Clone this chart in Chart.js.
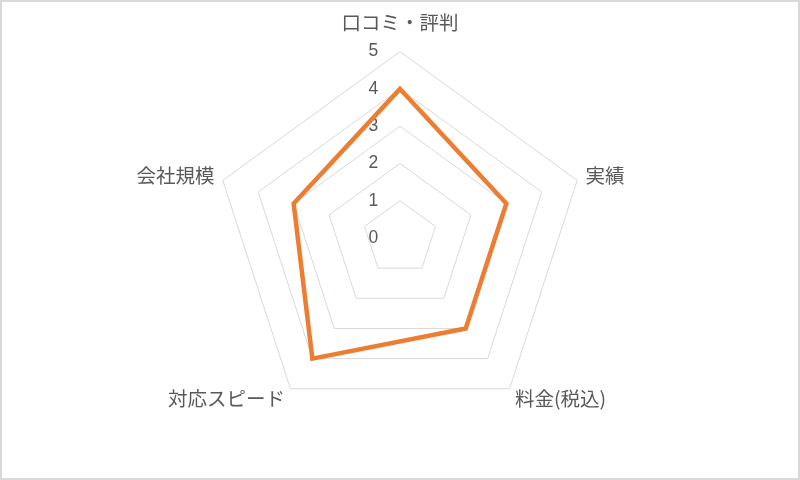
<!DOCTYPE html>
<html>
<head>
<meta charset="utf-8">
<script src="https://cdn.jsdelivr.net/npm/chart.js@4"></script>
<style>
  html, body { margin: 0; padding: 0; background: #fff; }
  .wrap { position: relative; width: 800px; height: 480px; }
  .wrap::after {
    content: ''; position: absolute; left: 0; top: 0; right: 0; bottom: 0;
    border: 2px solid #d9d9d9; pointer-events: none;
  }
</style>
</head>
<body>
<div class="wrap"><canvas id="radar"></canvas></div>
<script>
const categories = ['口コミ・評判', '実績', '料金(税込)', '対応スピード', '会社規模'];
const scores = [4, 3, 3, 4, 3];
const tickValues = [0, 1, 2, 3, 4, 5];

// distance of each category label from the outer ring
const labelPadding = [18.5, 0, 0.5, 0.5, 0];

const config = {
    type: 'radar',
    data: {
        labels: categories,
        datasets: [{
            label: '評価',
            data: scores,
            borderColor: '#ED7D31',
            backgroundColor: 'rgba(0,0,0,0)',
            borderWidth: 4.5,
            borderJoinStyle: 'miter',
            pointRadius: 0,
            pointHoverRadius: 0,
            fill: false
        }]
    },
    options: {
        responsive: true,
        maintainAspectRatio: false,
        animation: false,
        layout: {
            padding: { top: 10.5, bottom: 34.5, left: 0, right: 0 }
        },
        plugins: {
            legend: { display: false },
            tooltip: { enabled: false }
        },
        scales: {
            r: {
                min: -0.0001, // keeps the "0" label visible
                max: 5,
                afterBuildTicks: (scale) => {
                    scale.ticks = tickValues.map(v => ({ value: v }));
                },
                angleLines: { display: false },
                grid: {
                    color: (ctx) => ctx.index === 0 ? 'rgba(0,0,0,0)' : '#d9d9d9',
                    lineWidth: 1
                },
                ticks: {
                    showLabelBackdrop: false,
                    backdropPadding: 0,
                    color: '#595959',
                    font: { family: 'Liberation Sans', size: 17.5 },
                    callback: (v) => v + '           '
                },
                pointLabels: {
                    color: '#595959',
                    padding: (ctx) => labelPadding[ctx.index],
                    font: { family: '"Noto Sans CJK JP"', size: 19.5, lineHeight: 0.2 }
                }
            }
        }
    }
};

const radarChart = new Chart(document.getElementById('radar'), config);
</script>
</body>
</html>
